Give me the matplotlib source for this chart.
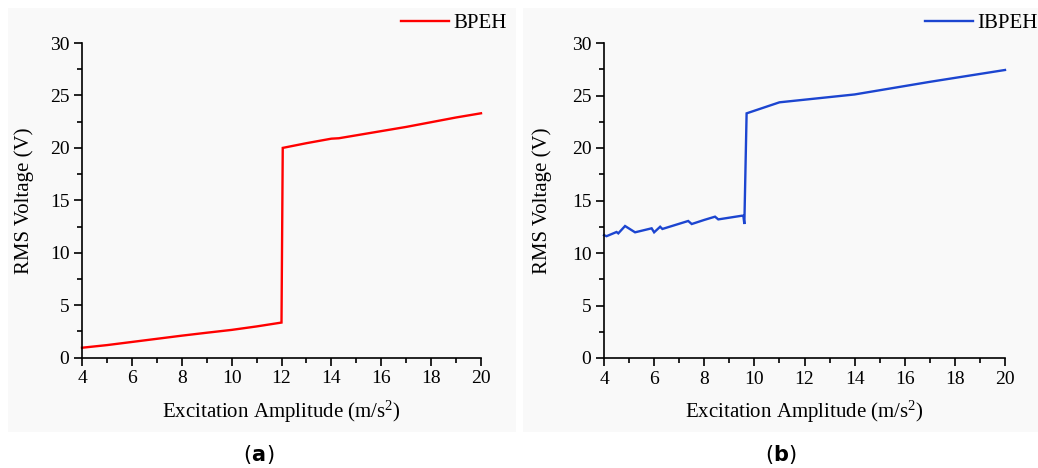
import matplotlib
matplotlib.use("Agg")
import matplotlib.pyplot as plt
from matplotlib.patches import Rectangle
from matplotlib.ticker import MultipleLocator

plt.rcParams['font.family'] = ['Liberation Serif', 'DejaVu Serif']
plt.rcParams['mathtext.fontset'] = 'custom'
plt.rcParams['mathtext.rm'] = 'Liberation Serif'
plt.rcParams['mathtext.it'] = 'Liberation Serif:italic'

# ---- data ----
bpeh_x = [4, 5, 6, 7, 8, 9, 10, 11, 12, 12.05, 13, 14, 14.3, 15, 16, 17, 18, 19, 20]
bpeh_y = [0.95, 1.2, 1.5, 1.8, 2.1, 2.38, 2.65, 2.98, 3.35, 20.0, 20.45, 20.88, 20.92, 21.2, 21.6, 22.0, 22.45, 22.9, 23.3]

ibpeh_x = [4.0, 4.1, 4.5, 4.57, 4.84, 5.24, 5.9, 6.0, 6.24, 6.33, 7.36, 7.5, 8.0, 8.43, 8.56, 9.5, 9.56, 9.6, 9.69, 11.0, 14.0, 17.0, 20.0]
ibpeh_y = [11.7, 11.6, 12.0, 11.87, 12.57, 11.97, 12.35, 11.97, 12.5, 12.29, 13.05, 12.76, 13.15, 13.46, 13.2, 13.55, 13.55, 12.76, 23.3, 24.35, 25.1, 26.3, 27.43]

x_ticks = [4, 6, 8, 10, 12, 14, 16, 18, 20]
y_ticks = [0, 5, 10, 15, 20, 25, 30]
x_label = r"Excitation Amplitude (m/s$^{2}$)"
y_label = "RMS Voltage (V)"

W, H = 1038, 468
fig = plt.figure(figsize=(W / 100, H / 100), dpi=100)
fig.patch.set_facecolor('white')

def fx(px):
    return px / W

def fy(py):
    return 1 - py / H

# panel backgrounds
for (x0, x1) in [(8, 516), (523, 1038)]:
    fig.patches.append(Rectangle((fx(x0), fy(432)), fx(x1 - x0), (432 - 8) / H,
                                 transform=fig.transFigure, facecolor='#f9f9f9',
                                 edgecolor='none', zorder=-10))

panels = [
    dict(box=(82, 481, 43, 357.7), x=bpeh_x, y=bpeh_y, color='#ff0000', label='BPEH',
         leg=(401, 23), ylab_x=34, cap='a', cap_x=258.5),
    dict(box=(604, 1005, 43, 358), x=ibpeh_x, y=ibpeh_y, color='#1c45d0', label='IBPEH',
         leg=(925, 23), ylab_x=552, cap='b', cap_x=781),
]

for p in panels:
    l, r, t, b = p['box']
    ax = fig.add_axes([fx(l), fy(b), fx(r - l), (b - t) / H])
    ax.set_facecolor('none')
    ax.plot(p['x'], p['y'], color=p['color'], lw=1.7, label=p['label'], clip_on=False,
            solid_joinstyle='miter')
    ax.set_xlim(4, 20)
    ax.set_ylim(0, 30)
    ax.set_xticks(x_ticks)
    ax.set_yticks(y_ticks)
    ax.xaxis.set_minor_locator(MultipleLocator(1))
    ax.yaxis.set_minor_locator(MultipleLocator(2.5))
    for s in ['top', 'right']:
        ax.spines[s].set_visible(False)
    for s in ['left', 'bottom']:
        ax.spines[s].set_linewidth(1.2)
    ax.tick_params(which='major', direction='out', length=6, width=1.2, labelsize=14, pad=3)
    ax.tick_params(which='minor', direction='out', length=3.5, width=1.2)
    ax.set_xlabel(x_label, fontsize=15, labelpad=8)
    ax.set_ylabel(y_label, fontsize=15)
    ax.yaxis.set_label_coords(fx(p['ylab_x']), fy((t + b) / 2), transform=fig.transFigure)
    lx, ly = p['leg']
    ax.legend(loc='center left', bbox_to_anchor=(fx(lx), fy(ly)), bbox_transform=fig.transFigure,
              frameon=False, borderpad=0, borderaxespad=0, handlelength=2.3, handletextpad=0.2,
              fontsize=15)
    cx = p['cap_x']
    fig.text(fx(cx - 7.5), fy(455), '(', ha='right', va='center', fontsize=15,
             family='DejaVu Sans')
    fig.text(fx(cx), fy(455), p['cap'], ha='center', va='center', fontsize=15,
             fontweight='bold', family='DejaVu Sans')
    fig.text(fx(cx + 7.5), fy(455), ')', ha='left', va='center', fontsize=15,
             family='DejaVu Sans')

fig.savefig('out.png', dpi=100, facecolor='white')
